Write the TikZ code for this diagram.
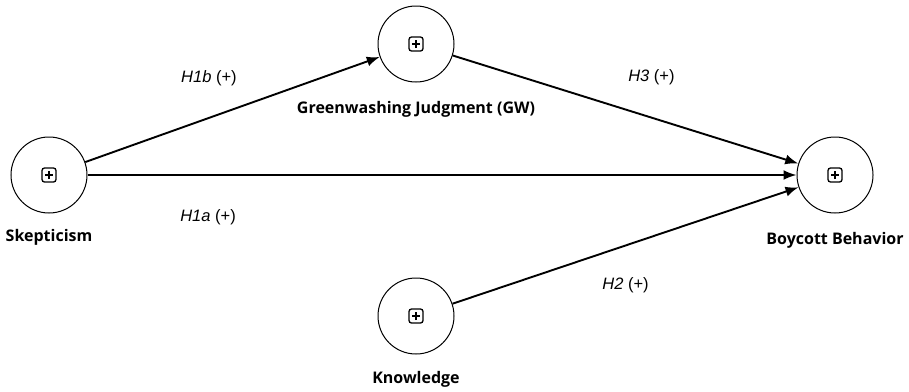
\documentclass[tikz,border=0pt]{standalone}
\usepackage{fontspec}
\setmainfont{Open Sans}
\newfontfamily\hypfont{Liberation Sans}
\usetikzlibrary{arrows.meta,positioning}

\begin{document}
\begin{tikzpicture}[x=1pt,y=-1pt,>={Latex[length=13pt,width=10pt]},
  construct/.style={draw,circle,minimum size=76pt,inner sep=0pt,line width=1pt},
  cname/.style={font=\bfseries\fontsize{16}{19}\selectfont,inner sep=0pt},
  hyp/.style={font=\hypfont\fontsize{16.5}{19}\selectfont,inner sep=0pt},
  path/.style={->,line width=1.9pt}]
\useasboundingbox (0,0) rectangle (909,391);
\node (sk) [construct] at (49,175) {};
\node (gw) [construct] at (416,44) {};
\node (bb) [construct] at (835,175) {};
\node (kn) [construct] at (416,316) {};
\node (skl) [cname,below=16pt of sk] {Skepticism};
\node (gwl) [cname,below=19pt of gw] {Greenwashing Judgment (GW)};
\node (bbl) [cname,below=19pt of bb] {Boycott Behavior};
\node (knl) [cname,below=17pt of kn] {Knowledge};
% small expand icons
\foreach \n in {sk,gw,bb,kn}{
  \draw[line width=1.3pt,rounded corners=2.5pt] ([shift={(-7,-7)}]\n.center) rectangle ([shift={(7,7)}]\n.center);
  \draw[line width=1.2pt] ([xshift=-4pt]\n.center) -- ([xshift=4pt]\n.center)
    ([yshift=-4pt]\n.center) -- ([yshift=4pt]\n.center);
}
\draw[path] (sk) -- node[hyp,pos=0.42,yshift=40pt]{\textit{H1b} (+)} (gw);
\draw[path] (gw) -- node[hyp,pos=0.575,yshift=40pt]{\textit{H3} (+)} (bb);
\draw[path] (sk) -- node[hyp,pos=0.17,yshift=-42pt]{\textit{H1a} (+)} (bb);
\draw[path] (kn) -- node[hyp,pos=0.5,yshift=-40pt]{\textit{H2} (+)} (bb);
\end{tikzpicture}
\end{document}
